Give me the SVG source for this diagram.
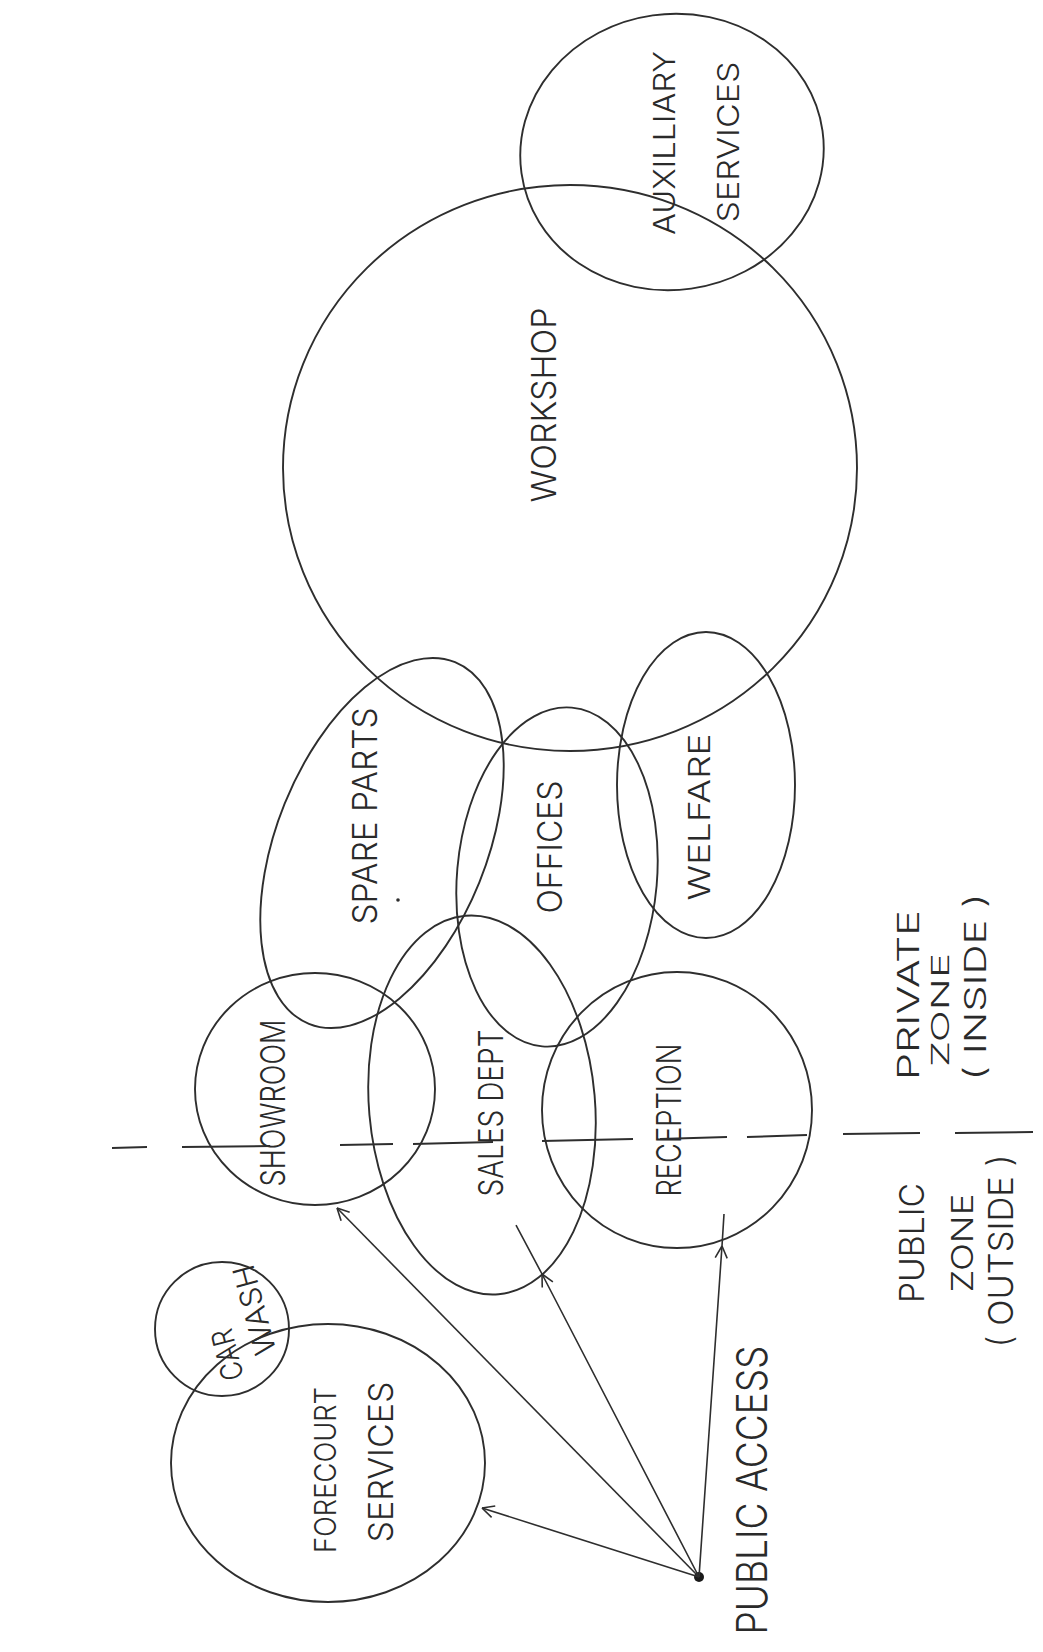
<svg xmlns="http://www.w3.org/2000/svg" width="1043" height="1652" viewBox="0 0 1043 1652">
<style>
.b{fill:none;stroke:#2e2e2e;stroke-width:1.9}
.t{font-family:Inter,"Liberation Sans",Arial,sans-serif;font-weight:300;font-size:34px;fill:#2a2a2a;text-anchor:middle;dominant-baseline:central}
.s{font-size:30px}
.c{fill:none;stroke:#2e2e2e;stroke-width:1.6}
.d{stroke:#2e2e2e;stroke-width:2}
</style>
<defs>
<marker id="ah" markerUnits="userSpaceOnUse" markerWidth="30" markerHeight="30" refX="15" refY="15" orient="auto" overflow="visible">
<path d="M15,15 L3,9 M15,15 L3,21" fill="none" stroke="#2e2e2e" stroke-width="1.6"/>
</marker>
</defs>
<rect width="1043" height="1652" fill="#fff"/>
<g id="workshop"><ellipse class="b" cx="570" cy="468" rx="287" ry="283"/>
<text class="t" transform="translate(543,405) rotate(-90)" textLength="195" lengthAdjust="spacingAndGlyphs">WORKSHOP</text></g>
<g id="auxiliary"><ellipse class="b" cx="672" cy="152" rx="152" ry="138" transform="rotate(-8 672 152)"/>
<text class="t s" transform="translate(664,143) rotate(-90)" textLength="184" lengthAdjust="spacingAndGlyphs">AUXILLIARY</text>
<text class="t s" transform="translate(728,142) rotate(-90)" textLength="161" lengthAdjust="spacingAndGlyphs">SERVICES</text></g>
<g id="spare-parts"><ellipse class="b" cx="382" cy="843" rx="195" ry="105" transform="rotate(-68 382 843)"/>
<text class="t" transform="translate(364,816) rotate(-90)" textLength="217" lengthAdjust="spacingAndGlyphs">SPARE PARTS</text>
<circle cx="398" cy="900" r="1.8" fill="#2e2e2e"/></g>
<g id="offices"><ellipse class="b" cx="557" cy="877" rx="100" ry="170" transform="rotate(5 557 877)"/>
<text class="t" transform="translate(549,847) rotate(-90)" textLength="133" lengthAdjust="spacingAndGlyphs">OFFICES</text></g>
<g id="welfare"><ellipse class="b" cx="706" cy="785" rx="89" ry="153"/>
<text class="t s" transform="translate(699,817) rotate(-90)" textLength="167" lengthAdjust="spacingAndGlyphs">WELFARE</text></g>
<g id="showroom"><ellipse class="b" cx="315" cy="1089" rx="120" ry="116"/>
<text class="t" transform="translate(272,1103) rotate(-90)" textLength="167" lengthAdjust="spacingAndGlyphs">SHOWROOM</text></g>
<g id="sales-dept"><ellipse class="b" cx="482" cy="1105" rx="113" ry="190" transform="rotate(-5 482 1105)"/>
<text class="t" transform="translate(490,1113) rotate(-90)" textLength="167" lengthAdjust="spacingAndGlyphs">SALES DEPT</text></g>
<g id="reception"><ellipse class="b" cx="677" cy="1110" rx="135" ry="138"/>
<text class="t" transform="translate(668,1120) rotate(-90)" textLength="153" lengthAdjust="spacingAndGlyphs">RECEPTION</text></g>
<g id="car-wash"><circle class="b" cx="222" cy="1329" r="67"/>
<text class="t s" transform="translate(227,1355) rotate(-104)" textLength="52" lengthAdjust="spacingAndGlyphs">CAR</text>
<text class="t s" transform="translate(254,1310) rotate(-105)" textLength="92" lengthAdjust="spacingAndGlyphs">WASH</text></g>
<g id="forecourt"><ellipse class="b" cx="328" cy="1463" rx="157" ry="139"/>
<text class="t s" transform="translate(325,1470) rotate(-90)" textLength="166" lengthAdjust="spacingAndGlyphs">FORECOURT</text>
<text class="t" transform="translate(380,1462) rotate(-90)" textLength="161" lengthAdjust="spacingAndGlyphs">SERVICES</text></g>
<g id="public-access"><circle cx="699" cy="1577" r="5" fill="#1a1a1a"/>
<text class="t" style="font-size:42px" transform="translate(751,1490) rotate(-90)" textLength="289" lengthAdjust="spacingAndGlyphs">PUBLIC ACCESS</text></g>
<g id="zone-divider">
<line class="d" x1="112" y1="1148" x2="147" y2="1147"/>
<line class="d" x1="182" y1="1147" x2="270" y2="1146"/>
<line class="d" x1="340" y1="1145" x2="393" y2="1144"/>
<line class="d" x1="413" y1="1144" x2="493" y2="1142"/>
<line class="d" x1="542" y1="1141" x2="633" y2="1139"/>
<line class="d" x1="660" y1="1139" x2="727" y2="1137"/>
<line class="d" x1="747" y1="1137" x2="807" y2="1135"/>
<line class="d" x1="843" y1="1134" x2="920" y2="1133"/>
<line class="d" x1="955" y1="1133" x2="1033" y2="1132"/>
</g>
<g id="public-zone">
<text class="t" transform="translate(911,1243) rotate(-90)" textLength="120" lengthAdjust="spacingAndGlyphs">PUBLIC</text>
<text class="t s" transform="translate(962,1243) rotate(-90)" textLength="99" lengthAdjust="spacingAndGlyphs">ZONE</text>
<text class="t" transform="translate(1000,1251) rotate(-90)" textLength="193" lengthAdjust="spacingAndGlyphs">( OUTSIDE )</text>
</g>
<g id="private-zone">
<text class="t s" transform="translate(908,995) rotate(-90)" textLength="170" lengthAdjust="spacingAndGlyphs">PRIVATE</text>
<text class="t" style="font-size:24px" transform="translate(940,1010) rotate(-90)" textLength="114" lengthAdjust="spacingAndGlyphs">ZONE</text>
<text class="t s" transform="translate(975,987) rotate(-90)" textLength="187" lengthAdjust="spacingAndGlyphs">( INSIDE )</text>
</g>
<g id="connectors">
<polyline class="c" points="699,1577 482,1508" marker-end="url(#ah)"/>
<polyline class="c" points="699,1577 337,1208" marker-end="url(#ah)"/>
<polyline class="c" points="699,1577 542,1274 516,1225" marker-mid="url(#ah)"/>
<polyline class="c" points="699,1577 722,1246 724,1214" marker-mid="url(#ah)"/>
</g>
</svg>
